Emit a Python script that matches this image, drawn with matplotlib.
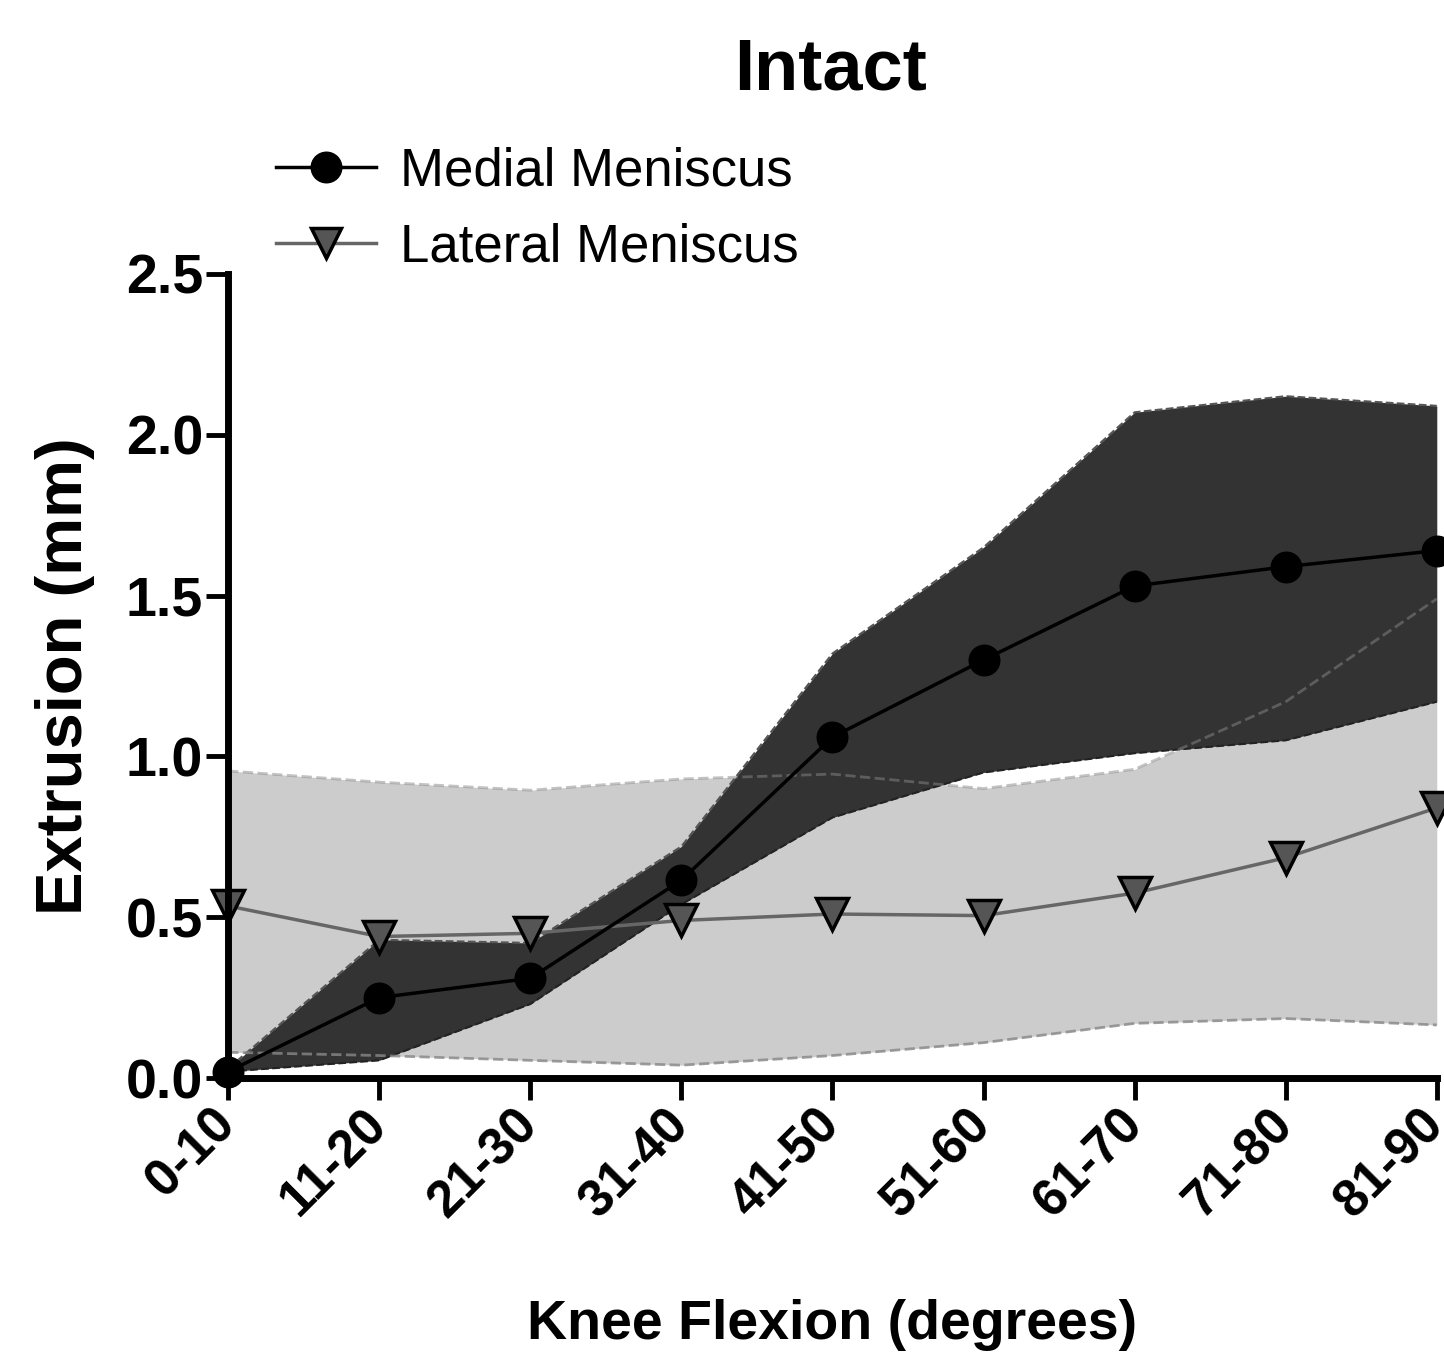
import matplotlib.pyplot as plt
import matplotlib
import matplotlib.transforms as mtransforms
import numpy as np

matplotlib.rcParams['font.family'] = ['Liberation Sans', 'DejaVu Sans']

# data
categories = ['0-10', '11-20', '21-30', '31-40', '41-50', '51-60', '61-70', '71-80', '81-90']
medial_mean = [0.02, 0.25, 0.31, 0.615, 1.06, 1.30, 1.53, 1.59, 1.64]
medial_upper = [0.03, 0.43, 0.42, 0.72, 1.32, 1.65, 2.07, 2.12, 2.09]
medial_lower = [0.02, 0.055, 0.23, 0.54, 0.81, 0.95, 1.01, 1.05, 1.17]
lateral_mean = [0.535, 0.44, 0.45, 0.49, 0.51, 0.505, 0.575, 0.685, 0.84]
lateral_upper = [0.955, 0.92, 0.895, 0.93, 0.945, 0.90, 0.96, 1.17, 1.49]
lateral_lower = [0.08, 0.07, 0.055, 0.04, 0.07, 0.11, 0.17, 0.185, 0.165]
yticks = [0.0, 0.5, 1.0, 1.5, 2.0, 2.5]

x = np.arange(len(categories))

fig = plt.figure(figsize=(14.44, 13.55), dpi=100)
ax = fig.add_axes([0.158, 0.2044, 0.837, 0.5934])

# lateral band (light)
ax.fill_between(x, lateral_lower, lateral_upper, color='#cccccc', lw=0, zorder=1)
# medial band (dark)
ax.fill_between(x, medial_lower, medial_upper, color='#333333', lw=0, zorder=2)
ax.plot(x, medial_upper, ls='--', color='#555555', lw=1.5, zorder=2.5)
ax.plot(x, medial_lower, ls='--', color='#222222', lw=1.5, zorder=2.5)
# lateral dashed edges, drawn faintly over everything
ax.plot(x, lateral_upper, ls='--', color='#888888', lw=2, alpha=0.5, zorder=3)
ax.plot(x, lateral_lower, ls='--', color='#888888', lw=2, alpha=0.8, zorder=3)

ax.plot(x, medial_mean, '-o', color='black', lw=2.5, ms=22, zorder=5,
        clip_on=False, label='Medial Meniscus')
ax.plot(x, lateral_mean, '-v', color='#666666', lw=2.5, ms=23, mfc='#555555',
        mec='black', mew=2.5, zorder=4, clip_on=False, label='Lateral Meniscus')

ax.set_xlim(0, 8)
ax.set_ylim(0, 2.5)
ax.set_xticks(x)
ax.set_xticklabels(categories, rotation=45, ha='right', va='center',
                   rotation_mode='anchor', fontsize=37, fontweight='bold')
# nudge tick labels a little to the right
shift = mtransforms.ScaledTranslation(12 / 72, 0, fig.dpi_scale_trans)
for lbl in ax.get_xticklabels():
    lbl.set_transform(lbl.get_transform() + shift)
ax.set_yticks(yticks)
ax.set_yticklabels([f'{v:.1f}' for v in yticks], fontsize=40, fontweight='bold')
ax.tick_params(axis='both', width=3.5, length=16, direction='out', pad=2)
ax.tick_params(axis='x', pad=12)

for s in ['top', 'right']:
    ax.spines[s].set_visible(False)
for s in ['left', 'bottom']:
    ax.spines[s].set_linewidth(5)
    ax.spines[s].set_zorder(6)

ax.set_xlabel('Knee Flexion (degrees)', fontsize=40, fontweight='bold', labelpad=52)
ax.set_ylabel('Extrusion (mm)', fontsize=47, fontweight='bold', labelpad=22)
fig.text(0.575, 0.948, 'Intact', fontsize=52, fontweight='bold', ha='center', va='center')

leg = ax.legend(loc='lower left', bbox_to_anchor=(0.022, 0.975), frameon=False,
                fontsize=38, handlelength=1.9, handletextpad=0.45, labelspacing=0.5,
                borderaxespad=0)
for h in leg.legend_handles:
    h.set_markersize(22)

fig.savefig('out.png', dpi=100)
